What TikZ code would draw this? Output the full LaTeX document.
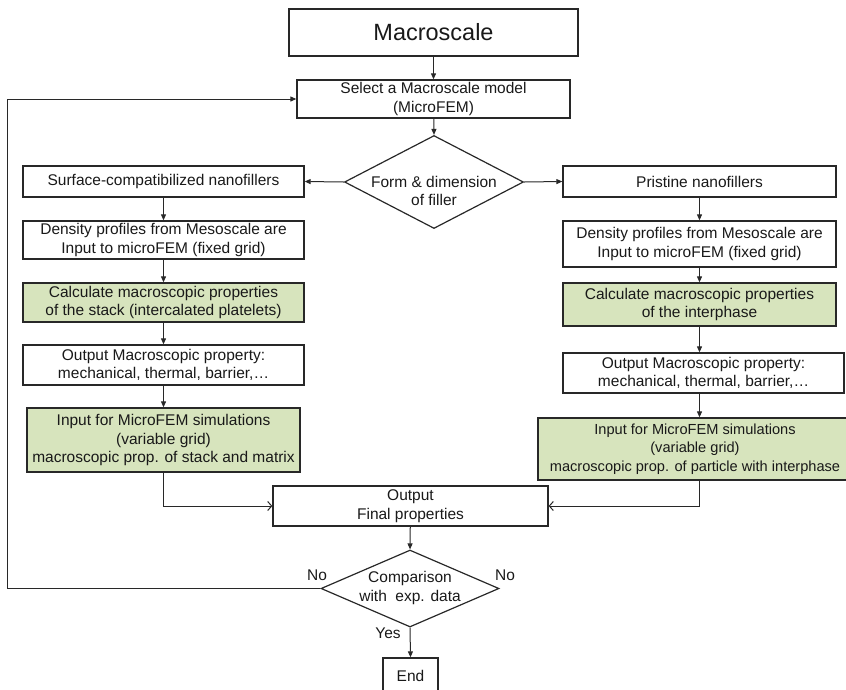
\documentclass[tikz,border=0pt]{standalone}
\usepackage{fontspec}
\setmainfont{Liberation Sans}
\usetikzlibrary{shapes.geometric,arrows.meta}
\definecolor{boxgreen}{RGB}{215,228,189}
\definecolor{linegray}{RGB}{40,40,40}
\begin{document}
\begin{tikzpicture}[x=1pt,y=-1pt,
  box/.style={draw=linegray,line width=1.3pt,fill=white,rectangle,inner sep=0pt,align=center,font=\fontsize{15.5}{18.5}\selectfont,text=black!90},
  gbox/.style={box,fill=boxgreen},
  dia/.style={draw=linegray,line width=1.2pt,diamond,inner sep=0pt,fill=white},
  lbl/.style={font=\fontsize{15.5}{18.5}\selectfont,text=black!90,align=center,inner sep=0pt},
  arr/.style={draw=linegray,line width=1pt,-{Triangle[length=6pt,width=5pt]}},
  oarr/.style={draw=linegray,line width=1pt,-{Straight Barb[length=4pt,width=9pt]}}]
\useasboundingbox (0,0) rectangle (846,689);
% top
\node[box,minimum width=289pt,minimum height=47pt,font=\fontsize{23.5}{28}\selectfont] (macro) at (433.5,32.5) {Macroscale};
\node[box,minimum width=273pt,minimum height=38pt] (select) at (433.5,99) {Select a Macroscale model\\(MicroFEM)};
\node[dia,minimum width=179pt,minimum height=93pt] (d1) at (434,182) {};
\node[lbl] (d1t) at (434,191) {Form \& dimension\\of filler};
% left column
\node[box,minimum width=281pt,minimum height=31pt] (surf) at (163.5,181.5) {Surface-compatibilized nanofillers};
\node[box,minimum width=281pt,minimum height=38pt] (densL) at (163.5,240) {Density profiles from Mesoscale are\\Input to microFEM (fixed grid)};
\node[gbox,minimum width=281pt,minimum height=39pt] (calcL) at (163.5,302.5) {Calculate macroscopic properties\\of the stack (intercalated platelets)};
\node[box,minimum width=281pt,minimum height=40pt] (outL) at (163.5,365) {Output Macroscopic property:\\mechanical, thermal, barrier,\dots};
\node[gbox,minimum width=273pt,minimum height=64pt] (inL) at (163.5,440) {Input for MicroFEM simulations\\(variable grid)\\macroscopic prop. of stack and matrix};
% right column
\node[box,minimum width=273pt,minimum height=31pt] (prist) at (699.5,181.5) {Pristine nanofillers};
\node[box,minimum width=273pt,minimum height=46pt] (densR) at (699.5,244) {Density profiles from Mesoscale are\\Input to microFEM (fixed grid)};
\node[gbox,minimum width=273pt,minimum height=43pt] (calcR) at (699.5,304.5) {Calculate macroscopic properties\\of the interphase};
\node[box,minimum width=281pt,minimum height=40pt] (outR) at (703.5,373) {Output Macroscopic property:\\mechanical, thermal, barrier,\dots};
\node[gbox,minimum width=314pt,minimum height=62pt,font=\fontsize{14.6}{18.5}\selectfont] (inR) at (695,449) {Input for MicroFEM simulations\\(variable grid)\\macroscopic prop. of particle with interphase};
% bottom
\node[box,minimum width=275pt,minimum height=40pt] (final) at (410.5,506) {Output\\Final properties};
\node[dia,minimum width=178pt,minimum height=77pt] (d2) at (410,588.5) {};
\node[lbl] (d2t) at (410,588) {Comparison\\with\ \ exp. data};
\node[box,minimum width=55pt,minimum height=36pt] (end) at (410.5,676) {End};
\node[lbl] (noL) at (317,575) {No};
\node[lbl] (noR) at (505,575) {No};
\node[lbl] (yes) at (388,633) {Yes};
\coordinate (loopc) at (7,588.5);
% connectors
\draw[arr] (macro) -- (select);
\draw[arr] (select) -- (d1.north);
\draw[arr] (d1.west) -- (surf.east);
\draw[arr] (d1.east) -- (prist.west);
\draw[arr] (surf) -- (densL);
\draw[arr] (densL) -- (calcL);
\draw[arr] (calcL) -- (outL);
\draw[arr] (outL) -- (inL);
\draw[arr] (prist) -- (densR);
\draw[arr] (densR) -- (calcR);
\draw[arr] (calcR.south) -- (calcR.south |- outR.north);
\draw[arr] (outR.south -| calcR.south) -- (inR.north -| calcR.south);
\draw[oarr] (inL.south) |- (final.west);
\draw[oarr] (inR.south -| calcR.south) |- (final.east);
\draw[arr] (final) -- (d2.north);
\draw[arr] (d2.south) -- (end.north);
\draw[arr] (d2.west) -- (loopc) |- (select.west);
\end{tikzpicture}
\end{document}
